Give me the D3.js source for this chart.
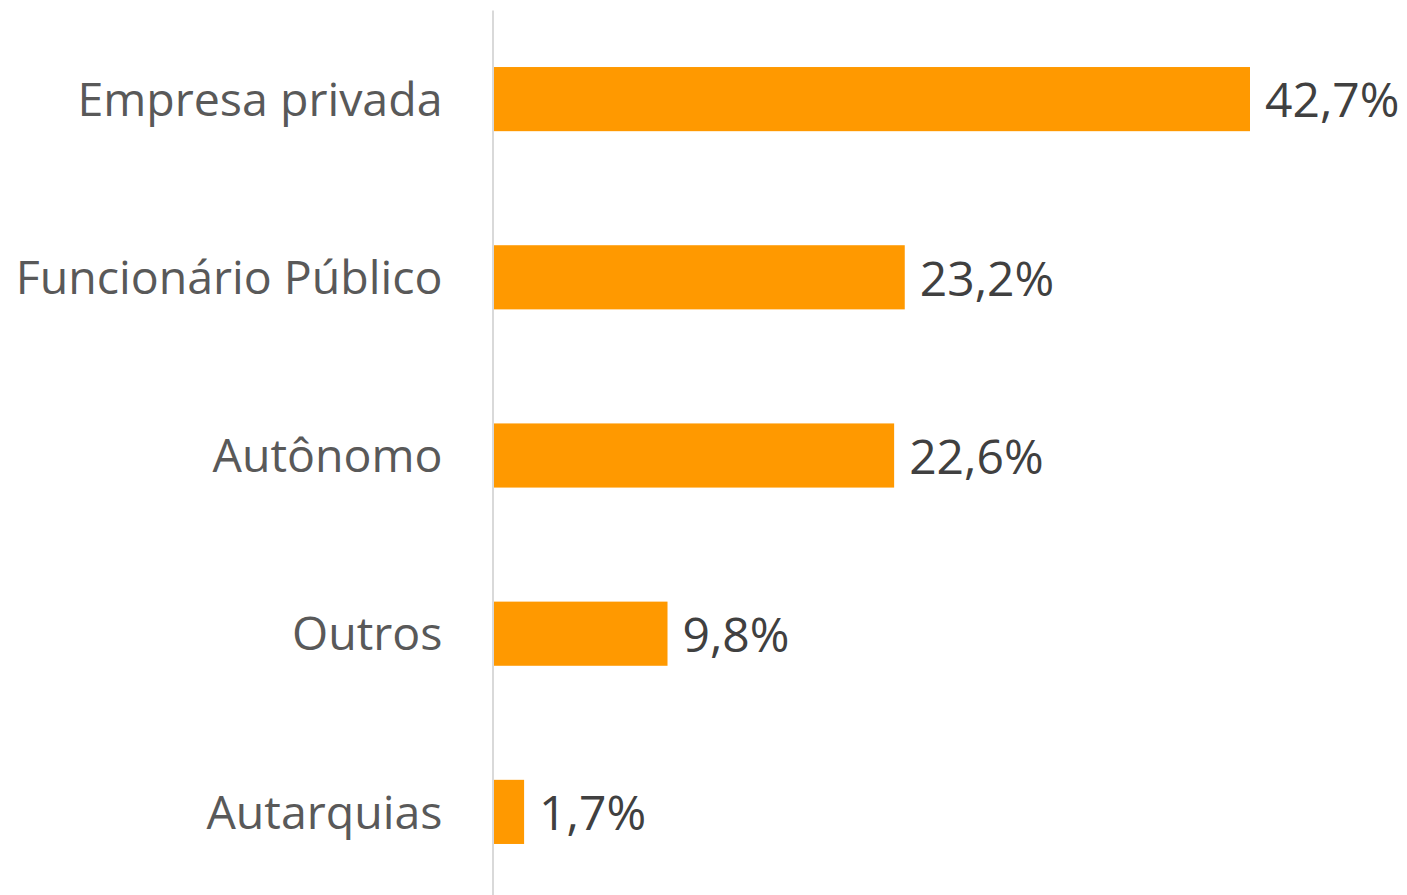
<!DOCTYPE html>
<html>
<head>
<meta charset="utf-8">
<script src="https://cdn.jsdelivr.net/npm/d3@7"></script>
<style>
  body { margin: 0; background: #fff; }
  text { font-family: "Open Sans", sans-serif; }
</style>
</head>
<body>
<div id="chart"></div>
<script>
// data
let categories = ["Empresa privada", "Funcionário Público", "Autônomo", "Outros", "Autarquias"];
let values = [42.7, 23.2, 22.6, 9.8, 1.7];
let valueLabels = ["42,7%", "23,2%", "22,6%", "9,8%", "1,7%"];

function makeChart() {
    let svgWidth = 1407;
    let svgHeight = 895;

    let svg = d3.select("#chart")
        .append("svg")
        .attr("width", svgWidth)
        .attr("height", svgHeight);

    let rows = categories.map((c, i) => ({ name: c, value: values[i], label: valueLabels[i] }));

    let xScale = d3.scaleLinear()
        .domain([0, 42.7])
        .range([494, 1250]);

    let yScale = d3.scaleBand()
        .domain(categories)
        .range([10, 901])
        .paddingInner(0.64)
        .paddingOuter(0.32);

    // bars
    svg.selectAll("rect.bar")
        .data(rows)
        .enter()
        .append("rect")
        .attr("class", "bar")
        .attr("x", xScale(0))
        .attr("y", d => yScale(d.name))
        .attr("width", d => xScale(d.value) - xScale(0))
        .attr("height", yScale.bandwidth())
        .attr("fill", "#FF9900");

    // vertical axis line + category labels
    let yAxis = d3.axisLeft(yScale).tickSize(0).tickPadding(50);
    let axisG = svg.append("g")
        .attr("transform", `translate(${xScale(0) - 1.5}, 0)`)
        .call(yAxis);
    axisG.select(".domain")
        .attr("stroke", "#d9d9d9")
        .attr("stroke-width", 2);
    axisG.selectAll(".tick text")
        .attr("font-family", "'Open Sans', sans-serif")
        .attr("font-size", "46.5px")
        .attr("fill", "#595959")
        .attr("dy", "0.36em");

    // value labels
    svg.selectAll("text.val")
        .data(rows)
        .enter()
        .append("text")
        .attr("class", "val")
        .attr("x", d => xScale(d.value) + 15)
        .attr("y", d => yScale(d.name) + yScale.bandwidth() / 2)
        .attr("dy", "0.38em")
        .attr("font-size", "48px")
        .attr("fill", "#404040")
        .text(d => d.label);
}

makeChart();
</script>
</body>
</html>
